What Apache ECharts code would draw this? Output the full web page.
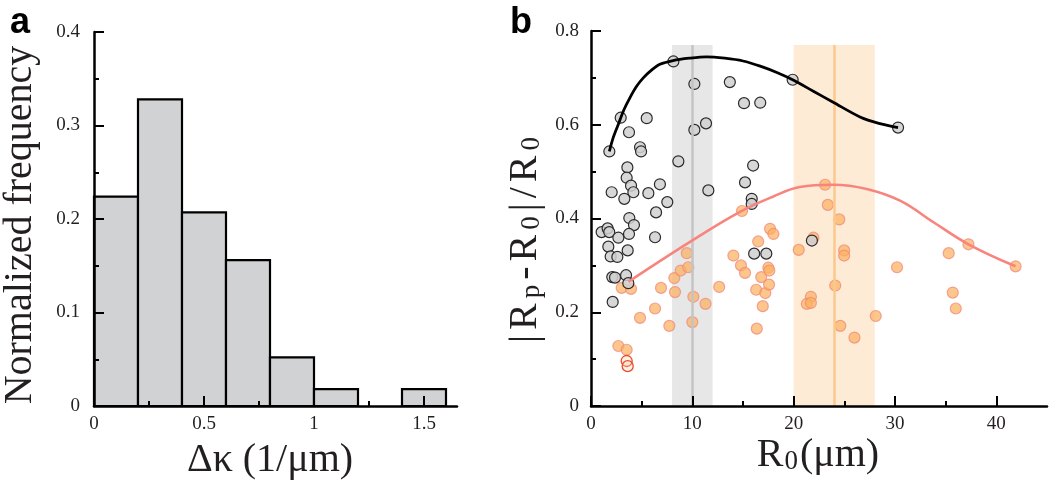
<!DOCTYPE html>
<html><head><meta charset="utf-8">
<script src="https://cdn.jsdelivr.net/npm/echarts@6/dist/echarts.min.js"></script>
<style>html,body{margin:0;padding:0;background:#fff}#c{width:1050px;height:485px}</style>
</head><body><div id="c"></div>
<script>
// ---------- Panel a: histogram ----------
const histBinStart = [0, 0.2, 0.4, 0.6, 0.8, 1.0, 1.2, 1.4];
const histBinEnd   = [0.2, 0.4, 0.6, 0.8, 1.0, 1.2, 1.4, 1.6];
const histFreq     = [0.224, 0.328, 0.207, 0.156, 0.052, 0.018, 0, 0.018];
const histXTicks      = [0, 0.5, 1, 1.5];
const histXMinorTicks = [0.25, 0.75, 1.25];

// ---------- Panel b: scatter ----------
const blackR = [1.81,2.93,3.75,5.5,4.84,4.94,3.59,3.52,3.95,4.18,2.04,3.29,5.66,6.8,6.42,7.53,6.32,8.62,11.58,8.13,10.2,13.7,15.1,16.7,10.2,11.35,15.2,16.0,15.86,15.86,16.1,17.3,1.05,1.64,1.8,1.71,1.94,2.7,2.6,3.78,4.24,3.75,3.62,2.1,2.37,3.46,3.68,2.14,19.9,30.3,21.8];
const blackV = [0.543,0.615,0.584,0.614,0.552,0.543,0.509,0.487,0.47,0.456,0.456,0.442,0.454,0.473,0.413,0.435,0.36,0.522,0.46,0.735,0.687,0.691,0.646,0.647,0.589,0.603,0.477,0.513,0.442,0.431,0.325,0.325,0.371,0.379,0.371,0.34,0.319,0.359,0.318,0.401,0.386,0.367,0.332,0.275,0.274,0.279,0.262,0.222,0.696,0.594,0.353];

const orangeR = [3.03,3.95,4.84,6.32,6.91,7.73,8.22,8.29,8.85,9.6,9.45,10.1,10.0,11.3,12.65,14.05,14.8,15.2,14.9,16.3,16.36,16.5,16.8,16.95,17.2,17.57,17.5,17.6,17.67,18.0,2.7,3.52,20.5,21.95,23.1,23.37,24.5,24.98,24.98,24.1,21.7,21.3,21.7,24.6,26.0,28.1,30.2,35.3,37.25,41.9,35.7,36.0];
const orangeV = [0.252,0.25,0.188,0.208,0.252,0.171,0.273,0.243,0.289,0.296,0.326,0.233,0.179,0.218,0.254,0.321,0.3,0.284,0.416,0.248,0.165,0.351,0.275,0.213,0.241,0.259,0.295,0.289,0.378,0.367,0.128,0.12,0.333,0.359,0.472,0.429,0.398,0.332,0.321,0.257,0.233,0.218,0.22,0.171,0.146,0.192,0.296,0.326,0.345,0.298,0.242,0.208];

const redR = [3.52, 3.62];
const redV = [0.096, 0.085];

const blackCurveR = [1.81,2.2,2.7,3.25,3.85,4.5,5.16,6.0,6.8,8.1,9.7,11.4,13.2,15.0,16.7,18.4,20.0,21.9,23.9,26.6,28.4,30.3];
const blackCurveV = [0.543,0.573,0.601,0.632,0.658,0.682,0.700,0.717,0.729,0.737,0.742,0.745,0.742,0.736,0.725,0.711,0.695,0.672,0.648,0.616,0.603,0.594];

const pinkCurveR = [3.7,9.77,14.7,18.0,20.6,23.9,27.2,30.5,33.8,37.25,41.9];
const pinkCurveV = [0.265,0.35,0.414,0.447,0.467,0.472,0.463,0.438,0.392,0.345,0.298];

const grayBand = [8, 12];
const grayBandCenter = 10;
const orangeBand = [20, 28];
const orangeBandCenter = 24;
const bandTop = 0.77;

const scatterXTicks = [0, 10, 20, 30, 40];
const scatterXMinorTicks = [5, 15, 25, 35];

const zip = (a, b) => a.map((v, i) => [v, b[i]]);
const SERIF = '"Liberation Serif","Times New Roman",serif';
const AX = '#000';
const LBL = '#231f20';

function valueAxisBase(extra) {
  return Object.assign({
    type: 'value',
    axisLine: { show: true, lineStyle: { color: AX, width: 2.5 } },
    axisTick: { show: true, inside: true, length: 10, lineStyle: { color: AX, width: 2 } },
    axisLabel: { fontFamily: SERIF, fontSize: 19, color: LBL },
    splitLine: { show: false },
    z: 10
  }, extra);
}

const chart = echarts.init(document.getElementById('c'), null, { renderer: 'canvas' });
chart.setOption({
  animation: false,
  backgroundColor: '#fff',
  grid: [
    { left: 94, top: 32, width: 363, height: 374 },
    { left: 591, top: 31, width: 456, height: 375 }
  ],
  xAxis: [
    valueAxisBase({ gridIndex: 0, min: 0, max: 1.65, position: 'bottom',
      axisTick: { show: true, inside: true, length: 10, customValues: histXTicks, lineStyle: { color: AX, width: 2 } },
      axisLabel: { customValues: histXTicks, fontFamily: SERIF, fontSize: 19, color: LBL, margin: 9 } }),
    valueAxisBase({ gridIndex: 0, min: 0, max: 1.65, position: 'bottom',
      axisLine: { show: false },
      axisTick: { show: true, inside: true, length: 5, customValues: histXMinorTicks, lineStyle: { color: AX, width: 2 } },
      axisLabel: { show: false } }),
    valueAxisBase({ gridIndex: 1, min: 0, max: 45, position: 'bottom',
      axisTick: { show: true, inside: true, length: 10, customValues: scatterXTicks, lineStyle: { color: AX, width: 2 } },
      axisLabel: { customValues: scatterXTicks, fontFamily: SERIF, fontSize: 19, color: LBL, margin: 9 } }),
    valueAxisBase({ gridIndex: 1, min: 0, max: 45, position: 'bottom',
      axisLine: { show: false },
      axisTick: { show: true, inside: true, length: 5, customValues: scatterXMinorTicks, lineStyle: { color: AX, width: 2 } },
      axisLabel: { show: false } })
  ],
  yAxis: [
    valueAxisBase({ gridIndex: 0, min: 0, max: 0.4, interval: 0.1,
      minorTick: { show: true, splitNumber: 2, length: 5, lineStyle: { color: AX, width: 2 } },
      axisLabel: { fontFamily: SERIF, fontSize: 19, color: LBL, margin: 14 } }),
    valueAxisBase({ gridIndex: 1, min: 0, max: 0.8, interval: 0.2,
      minorTick: { show: true, splitNumber: 2, length: 5, lineStyle: { color: AX, width: 2 } },
      axisLabel: { fontFamily: SERIF, fontSize: 19, color: LBL, margin: 12 } })
  ],
  series: [
    {
      type: 'custom',
      xAxisIndex: 0, yAxisIndex: 0,
      data: histBinStart.map((s, i) => [s, histBinEnd[i], histFreq[i]]),
      encode: { x: [0, 1], y: 2 },
      z: 2,
      renderItem: function (params, api) {
        const h = api.value(2);
        if (!h) return null;
        const p0 = api.coord([api.value(0), h]);
        const p1 = api.coord([api.value(1), 0]);
        return {
          type: 'rect',
          shape: { x: p0[0], y: p0[1], width: p1[0] - p0[0], height: p1[1] - p0[1] },
          style: { fill: '#d1d2d4', stroke: '#000', lineWidth: 2.2 }
        };
      }
    },
    {
      type: 'line',
      xAxisIndex: 2, yAxisIndex: 1,
      data: [],
      z: 1,
      markArea: {
        silent: true,
        data: [
          [{ xAxis: grayBand[0], yAxis: 0, itemStyle: { color: '#e7e7e7' } }, { xAxis: grayBand[1], yAxis: bandTop }],
          [{ xAxis: orangeBand[0], yAxis: 0, itemStyle: { color: '#fdebd6' } }, { xAxis: orangeBand[1], yAxis: bandTop }]
        ]
      },
      markLine: {
        silent: true,
        symbol: 'none',
        label: { show: false },
        data: [
          [{ coord: [grayBandCenter, 0], lineStyle: { color: '#c4c4c4', width: 2.5, type: 'solid' } }, { coord: [grayBandCenter, bandTop] }],
          [{ coord: [orangeBandCenter, 0], lineStyle: { color: '#fbc98c', width: 2.5, type: 'solid' } }, { coord: [orangeBandCenter, bandTop] }]
        ]
      }
    },
    {
      type: 'scatter',
      xAxisIndex: 2, yAxisIndex: 1,
      data: zip(orangeR, orangeV),
      symbolSize: 11,
      z: 3,
      itemStyle: { color: 'rgba(251,178,95,0.72)', borderColor: 'rgba(242,135,120,0.75)', borderWidth: 1.2, opacity: 1 }
    },
    {
      type: 'scatter',
      xAxisIndex: 2, yAxisIndex: 1,
      data: zip(redR, redV),
      symbolSize: 11,
      z: 3,
      itemStyle: { color: 'rgba(253,200,150,0.25)', borderColor: '#ee4a2a', borderWidth: 1.3, opacity: 1 }
    },
    {
      type: 'scatter',
      xAxisIndex: 2, yAxisIndex: 1,
      data: zip(blackR, blackV),
      symbolSize: 11,
      z: 4,
      itemStyle: { color: 'rgba(208,208,208,0.85)', borderColor: '#2a2a2a', borderWidth: 1.2, opacity: 1 }
    },
    {
      type: 'line',
      xAxisIndex: 2, yAxisIndex: 1,
      data: zip(blackCurveR, blackCurveV),
      smooth: 0.3,
      showSymbol: false,
      symbol: 'none',
      z: 5,
      lineStyle: { color: '#000', width: 2.8 }
    },
    {
      type: 'line',
      xAxisIndex: 2, yAxisIndex: 1,
      data: zip(pinkCurveR, pinkCurveV),
      smooth: 0.4,
      showSymbol: false,
      symbol: 'none',
      z: 5,
      lineStyle: { color: '#f8847e', width: 2.6 }
    }
  ],
  graphic: [
    { type: 'text', left: 10, top: 5, z: 100,
      style: { text: 'a', font: 'bold 36px "Liberation Sans", Arial, sans-serif', fill: '#000' } },
    { type: 'text', left: 510, top: 5, z: 100,
      style: { text: 'b', font: 'bold 36px "Liberation Sans", Arial, sans-serif', fill: '#000' } },
    { type: 'text', x: 20, y: 225, rotation: Math.PI / 2, z: 100,
      style: { text: 'Normalized frequency', font: '40px ' + SERIF, fill: LBL, align: 'center', verticalAlign: 'middle' } },
    { type: 'text', x: 270, y: 460, z: 100,
      style: { text: 'Δκ (1/μm)', font: '40px ' + SERIF, fill: LBL, align: 'center', verticalAlign: 'middle' } },
    { type: 'text', x: 818, y: 453, z: 100,
      style: {
        text: '{r|R}{s|0}{r|(μm)}', align: 'center', verticalAlign: 'middle', fill: LBL,
        rich: {
          r: { fontFamily: SERIF, fontSize: 40, lineHeight: 44, verticalAlign: 'bottom', fill: LBL },
          s: { fontFamily: SERIF, fontSize: 27, lineHeight: 22, verticalAlign: 'bottom', fill: LBL, padding: [0, 2, 0, 1] }
        }
      } },
    { type: 'text', x: 523, y: 240, rotation: Math.PI / 2, z: 100,
      style: {
        text: '{r||}{r|R}{s|p}{r|-}{r|R}{s|0}{r||}{r|/}{r|R}{s|0}', align: 'center', verticalAlign: 'middle', fill: LBL,
        rich: {
          r: { fontFamily: SERIF, fontSize: 40, lineHeight: 44, verticalAlign: 'bottom', fill: LBL, padding: [0, 2.5, 0, 2.5] },
          s: { fontFamily: SERIF, fontSize: 27, lineHeight: 22, verticalAlign: 'bottom', fill: LBL, padding: [0, 2.5, 0, 2.5] }
        }
      } }
  ]
});
</script>
</body></html>
